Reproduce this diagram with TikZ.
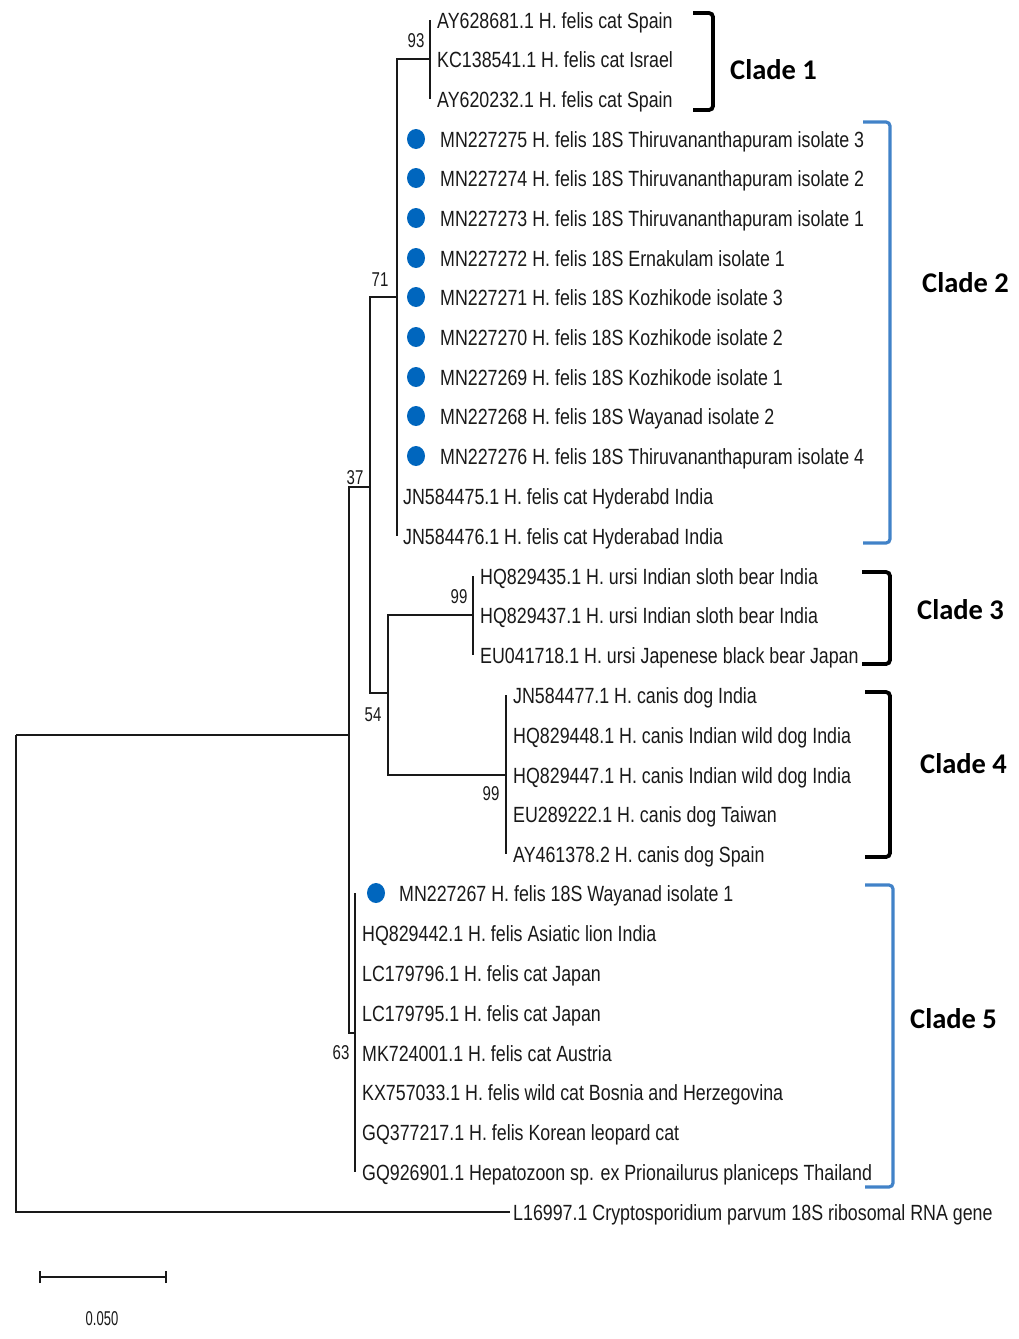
\documentclass[tikz,border=0pt]{standalone}
\usepackage{fontspec}
\setmainfont{Liberation Sans}
\newfontfamily\leaffont[FakeStretch=0.81]{Liberation Sans}
\newfontfamily\bootfont[FakeStretch=0.75]{Liberation Sans}
\newfontfamily\scalefont[FakeStretch=0.65]{Liberation Sans}
\newfontfamily\cladefont{Carlito}
\usetikzlibrary{shapes.geometric}
\definecolor{dotblue}{RGB}{0,102,190}
\definecolor{brblue}{RGB}{65,130,200}
\definecolor{ink}{RGB}{25,25,25}
\begin{document}
\begin{tikzpicture}[x=1pt,y=-1pt,
 leaf/.style={anchor=west, inner sep=0pt, text height=16pt, text depth=0pt, font=\leaffont\fontsize{22}{22}\selectfont, text=ink},
 boot/.style={inner sep=0pt, font=\bootfont\fontsize{20}{20}\selectfont, text=ink},
 branch/.style={line width=1.4pt, draw=ink},
 dot/.style={ellipse, fill=dotblue, minimum width=18pt, minimum height=20pt, inner sep=0pt},
 bracketk/.style={line width=3.8pt, rounded corners=4pt, draw=black},
 bracketb/.style={line width=3.2pt, rounded corners=4pt, draw=brblue},
 clade/.style={font=\cladefont\bfseries\fontsize{28.5}{28.5}\selectfont, inner sep=0pt, anchor=west}]
\useasboundingbox (0,0) rectangle (1019,1339);

% leaves
\node[leaf] (l0) at (437,20) {AY628681.1 H. felis cat Spain};
\node[leaf] (l1) at (437,59) {KC138541.1 H. felis cat Israel};
\node[leaf] (l2) at (437,99) {AY620232.1 H. felis cat Spain};
\node[leaf] (l3) at (440,139) {MN227275 H. felis 18S Thiruvananthapuram isolate 3};
\node[leaf] (l4) at (440,178) {MN227274 H. felis 18S Thiruvananthapuram isolate 2};
\node[leaf] (l5) at (440,218) {MN227273 H. felis 18S Thiruvananthapuram isolate 1};
\node[leaf] (l6) at (440,258) {MN227272 H. felis 18S Ernakulam isolate 1};
\node[leaf] (l7) at (440,297) {MN227271 H. felis 18S Kozhikode isolate 3};
\node[leaf] (l8) at (440,337) {MN227270 H. felis 18S Kozhikode isolate 2};
\node[leaf] (l9) at (440,377) {MN227269 H. felis 18S Kozhikode isolate 1};
\node[leaf] (l10) at (440,416) {MN227268 H. felis 18S Wayanad isolate 2};
\node[leaf] (l11) at (440,456) {MN227276 H. felis 18S Thiruvananthapuram isolate 4};
\node[leaf] (l12) at (403,496) {JN584475.1 H. felis cat Hyderabd India};
\node[leaf] (l13) at (403,536) {JN584476.1 H. felis cat Hyderabad India};
\node[leaf] (l14) at (480,576) {HQ829435.1 H. ursi Indian sloth bear India};
\node[leaf] (l15) at (480,615) {HQ829437.1 H. ursi Indian sloth bear India};
\node[leaf] (l16) at (480,655) {EU041718.1 H. ursi Japenese black bear Japan};
\node[leaf] (l17) at (513,695) {JN584477.1 H. canis dog India};
\node[leaf] (l18) at (513,735) {HQ829448.1 H. canis Indian wild dog India};
\node[leaf] (l19) at (513,775) {HQ829447.1 H. canis Indian wild dog India};
\node[leaf] (l20) at (513,814) {EU289222.1 H. canis dog Taiwan};
\node[leaf] (l21) at (513,854) {AY461378.2 H. canis dog Spain};
\node[leaf] (l22) at (399,893) {MN227267 H. felis 18S Wayanad isolate 1};
\node[leaf] (l23) at (362,933) {HQ829442.1 H. felis Asiatic lion India};
\node[leaf] (l24) at (362,973) {LC179796.1 H. felis cat Japan};
\node[leaf] (l25) at (362,1013) {LC179795.1 H. felis cat Japan};
\node[leaf] (l26) at (362,1053) {MK724001.1 H. felis cat Austria};
\node[leaf] (l27) at (362,1092) {KX757033.1 H. felis wild cat Bosnia and Herzegovina};
\node[leaf] (l28) at (362,1132) {GQ377217.1 H. felis Korean leopard cat};
\node[leaf] (l29) at (362,1172) {GQ926901.1 Hepatozoon sp. ex Prionailurus planiceps Thailand};
\node[leaf] (l30) at (513,1212) {L16997.1 Cryptosporidium parvum 18S ribosomal RNA gene};

% dots
\foreach \i/\y in {3/139,4/178,5/218,6/258,7/297,8/337,9/377,10/416,11/456}
  \node[dot] (d\i) at (416,\y) {};
\node[dot] (d22) at (376,893) {};

% internal nodes
\coordinate (R) at (16,735);
\coordinate (A) at (349,735);
\coordinate (B) at (370,487);
\coordinate (C12) at (397,297);
\coordinate (C1) at (430,59);
\coordinate (C34) at (388,693);
\coordinate (C3) at (473,615);
\coordinate (C4) at (506,775);
\coordinate (C5) at (355,1033);
\coordinate (T30) at (510,1212);

\draw[branch] (R) -- (A);
\draw[branch] (R) |- (T30);
\draw[branch] (A) |- (B);
\draw[branch] (A) |- (C5);
\draw[branch] (B) |- (C12);
\draw[branch] (B) |- (C34);
\draw[branch] (C12) |- (C1);
\draw[branch] (C12) -- (C12 |- l13.west);
\draw[branch] (C1 |- l0.west) -- (C1 |- l2.west);
\draw[branch] (C34) |- (C3);
\draw[branch] (C34) |- (C4);
\draw[branch] (C3 |- l14.west) -- (C3 |- l16.west);
\draw[branch] (C4 |- l17.west) -- (C4 |- l21.west);
\draw[branch] (C5 |- l22.west) -- (C5 |- l29.west);

% bootstrap values
\node[boot] (b93) at (416,41) {93};
\node[boot] (b71) at (380,280) {71};
\node[boot] (b37) at (355,478) {37};
\node[boot] (b99a) at (459,597) {99};
\node[boot] (b54) at (373,715) {54};
\node[boot] (b99b) at (491,794) {99};
\node[boot] (b63) at (341,1053) {63};

% scale bar
\coordinate (s1) at (40,1277);
\coordinate (s2) at (166,1277);
\draw[branch] (s1) -- (s2);
\draw[branch] ([yshift=-6pt]s1) -- ([yshift=6pt]s1);
\draw[branch] ([yshift=-6pt]s2) -- ([yshift=6pt]s2);
\node[inner sep=0pt, font=\scalefont\fontsize{20}{20}\selectfont, text=ink] (sl) at (102,1319) {0.050};

% clade brackets
\draw[bracketk] (693,13) -- (713,13) -- (713,110) -- (693,110);
\draw[bracketb] (863,122) -- (890,122) -- (890,543) -- (863,543);
\draw[bracketk] (862,572) -- (890,572) -- (890,664) -- (862,664);
\draw[bracketk] (865,692) -- (890,692) -- (890,857) -- (865,857);
\draw[bracketb] (865,885) -- (893,885) -- (893,1187) -- (865,1187);

\node[clade] (c1) at (730,70) {Clade 1};
\node[clade] (c2) at (922,283) {Clade 2};
\node[clade] (c3) at (917,610) {Clade 3};
\node[clade] (c4) at (920,764) {Clade 4};
\node[clade] (c5) at (910,1019) {Clade 5};
\end{tikzpicture}
\end{document}
